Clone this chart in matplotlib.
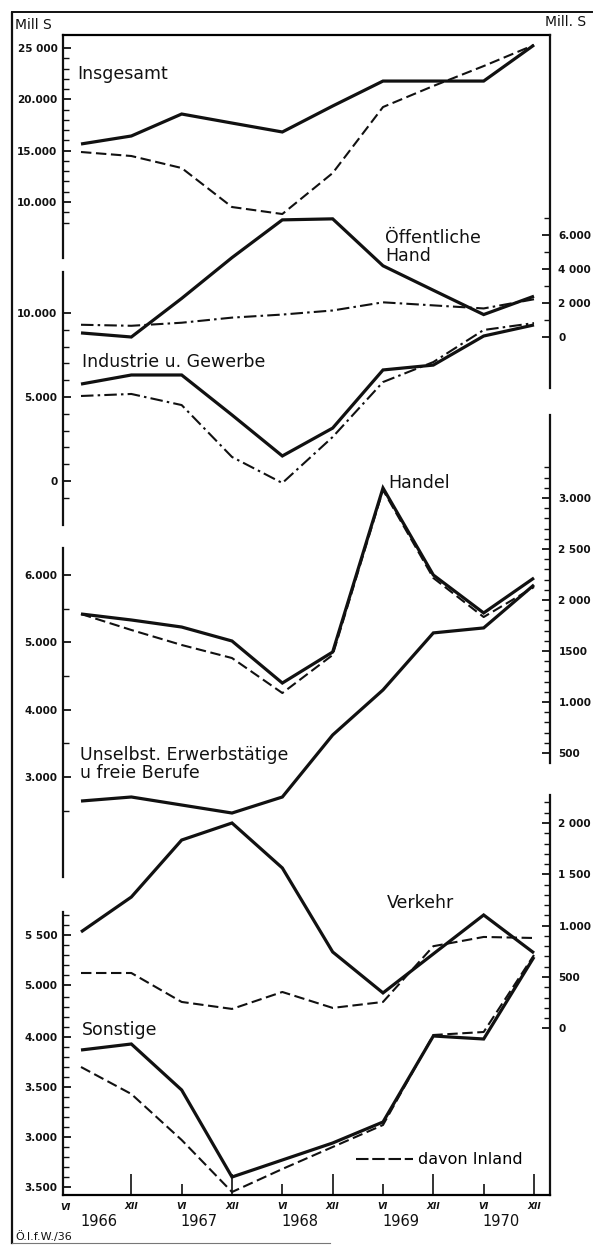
import numpy as np
import matplotlib
matplotlib.use('Agg')
import matplotlib.pyplot as plt
from matplotlib.lines import Line2D
from matplotlib import transforms

# ---------------- data (Mill S) ----------------
periods = ['VI 1966', 'XII 1966', 'VI 1967', 'XII 1967', 'VI 1968',
           'XII 1968', 'VI 1969', 'XII 1969', 'VI 1970', 'XII 1970']
years = ['1966', '1967', '1968', '1969', '1970']

insg_total = [15650, 16430, 18570, 17690, 16820, 19350, 21780, 21780, 21780, 25290]
insg_inland = [14870, 14480, 13310, 9510, 8830, 12820, 19250, 21300, 23240, 25290]
oeff_total = [240, 0, 2270, 4670, 6890, 6950, 4190, 2750, 1320, 2400]
oeff_inland = [720, 660, 840, 1140, 1320, 1560, 2040, 1860, 1680, 2220]
ind_total = [5770, 6310, 6310, 3930, 1490, 3150, 6610, 6900, 8630, 9290]
ind_inland = [5060, 5180, 4520, 1430, -120, 2620, 5890, 7080, 8990, 9400]
handel_total = [1863, 1804, 1735, 1598, 1186, 1490, 3098, 2245, 1873, 2216]
handel_inland = [1863, 1706, 1559, 1431, 1088, 1461, 3078, 2216, 1833, 2127]
unselbst_total = [2643, 2703, 2584, 2465, 2703, 3624, 4293, 5140, 5214, 5853]
verkehr_total = [939, 1279, 1834, 2000, 1562, 744, 345, 725, 1104, 734]
verkehr_inland = [539, 539, 257, 189, 354, 199, 257, 800, 890, 880]
sonst_total = [3870, 3930, 3470, 2600, 2770, 2940, 3150, 4010, 3980, 4800]
sonst_inland = [3700, 3430, 2970, 2450, 2680, 2900, 3120, 4020, 4050, 4820]

# ---------------- layout ----------------
W, H = 593, 1246
L, R, T, B = 63, 550, 35, 1195          # inner frame (pixels)
X0_PX, X9_PX = 81, 534                   # pixel x of first / last period
step = (X9_PX - X0_PX) / (len(periods) - 1)
XLIM = ((L - X0_PX) / step, (R - X0_PX) / step)
x = np.arange(len(periods))

INK = '#111111'
SOLID = dict(color=INK, lw=2.3, solid_joinstyle='miter', solid_capstyle='butt')
DASH = dict(color=INK, lw=1.5, linestyle=(0, (5, 2.2)), dash_capstyle='butt')

fig = plt.figure(figsize=(W / 100, H / 100), dpi=100)
fig.patch.set_facecolor('white')


def fx(px):
    return px / W


def fy(py):
    return 1 - py / H


def scaled_axes(p1, v1, p2, v2):
    k = (v2 - v1) / (p2 - p1)
    ax = fig.add_axes([L / W, 1 - B / H, (R - L) / W, (B - T) / H])
    ax.set_xlim(*XLIM)
    ax.set_ylim(v1 + (B - p1) * k, v1 + (T - p1) * k)
    ax.patch.set_visible(False)
    for s in ax.spines.values():
        s.set_visible(False)
    ax.tick_params(axis='x', which='both', bottom=False, top=False, labelbottom=False)
    ax.tick_params(axis='y', which='both', left=False, right=False,
                   labelleft=False, labelright=False)
    return ax, (lambda p: v1 + (p - p1) * k)


def yscale(ax, f, side, seg, majors, labels, minors, pad):
    ax.set_yticks(majors, labels, fontsize=7.5, fontweight='bold', color=INK)
    ax.set_yticks(minors, minor=True)
    if seg is not None:
        sp = ax.spines[side]
        sp.set_visible(True)
        a, b = sorted([f(seg[0]), f(seg[1])])
        sp.set_bounds(a, b)
        sp.set_linewidth(1.6)
        sp.set_color(INK)
    on_left = side == 'left'
    ax.tick_params(axis='y', which='both', direction='in', color=INK,
                   left=on_left, right=not on_left,
                   labelleft=on_left, labelright=not on_left)
    ax.tick_params(axis='y', which='major', length=6, width=1.3, pad=pad)
    ax.tick_params(axis='y', which='minor', length=4, width=1.0)


# --- Insgesamt (left scale, top) ---
ax1, f1 = scaled_axes(202, 10000, 48, 25000)
yscale(ax1, f1, 'left', (T, 258), [10000, 15000, 20000, 25000],
       ['10.000', '15.000', '20.000', '25 000'], list(range(8000, 26000, 1000)), 4)
ax1.spines['top'].set_visible(True)
ax1.spines['top'].set_linewidth(1.6)
ax1.plot(x, insg_total, **SOLID)
ax1.plot(x, insg_inland, **DASH)

# --- Öffentliche Hand (right scale) ---
ax2, f2 = scaled_axes(337, 0, 235, 6000)
yscale(ax2, f2, 'right', (T, 388), [0, 2000, 4000, 6000],
       ['0', '2 000', '4 000', '6.000'], list(range(0, 8000, 1000)), 6)
ax2.plot(x, oeff_total, **SOLID)
ax2.plot(x, oeff_inland, color=INK, lw=1.5, linestyle=(0, (6, 2, 1.2, 2)))

# --- Industrie u. Gewerbe (left scale) ---
ax3, f3 = scaled_axes(313, 10000, 481, 0)
yscale(ax3, f3, 'left', (272, 525), [0, 5000, 10000],
       ['0', '5.000', '10.000'], list(range(-1000, 11000, 1000)), 4)
ax3.plot(x, ind_total, **SOLID)
ax3.plot(x, ind_inland, color=INK, lw=1.5, linestyle=(0, (6, 2, 1.2, 2)))

# --- Handel (right scale) ---
ax4, f4 = scaled_axes(498, 3000, 753, 500)
yscale(ax4, f4, 'right', (415, 763), [500, 1000, 1500, 2000, 2500, 3000],
       ['500', '1.000', '1500', '2 000', '2 500', '3.000'],
       list(range(500, 3400, 100)), 6)
ax4.plot(x, handel_total, **SOLID)
ax4.plot(x, handel_inland, **DASH)

# --- Unselbst. Erwerbstätige (left scale) ---
ax5, f5 = scaled_axes(575, 6000, 777, 3000)
yscale(ax5, f5, 'left', (548, 877), [3000, 4000, 5000, 6000],
       ['3.000', '4.000', '5.000', '6.000'], list(range(2500, 6500, 500)), 4)
ax5.plot(x, unselbst_total, **SOLID)

# --- Verkehr (right scale) + its left labels ---
ax6, f6 = scaled_axes(823, 2000, 977, 500)
yscale(ax6, f6, 'right', (795, B), [0, 500, 1000, 1500, 2000],
       ['0', '500', '1.000', '1 500', '2 000'], list(range(0, 2300, 100)), 6)
ax6.plot(x, verkehr_total, **SOLID)
ax6.plot(x, verkehr_inland, **DASH)

ax6b, f6b = scaled_axes(935, 5500, 985, 5000)
yscale(ax6b, f6b, 'left', None, [5000, 5500], ['5.000', '5 500'],
       list(range(5000, 5800, 100)), 4)

# --- Sonstige (left scale, bottom with time axis) ---
ax7, f7 = scaled_axes(1037, 4000, 1187, 2500)
yscale(ax7, f7, 'left', (912, B), [2500, 3000, 3500, 4000],
       ['3.500', '3.000', '3.500', '4.000'], list(range(2500, 4500, 100)), 4)
ax7.plot(x, sonst_total, **SOLID)
ax7.plot(x, sonst_inland, **DASH)

ax7.spines['bottom'].set_visible(True)
ax7.spines['bottom'].set_linewidth(1.6)
xii = [i for i, p in enumerate(periods) if p.startswith('XII')]
vi = [i for i, p in enumerate(periods) if p.startswith('VI')][1:]
ax7.set_xticks(xii, ['XII'] * len(xii), fontsize=6.5, fontweight='bold',
               fontstyle='italic', color=INK)
ax7.set_xticks(vi, ['VI'] * len(vi), minor=True, fontsize=6.5, fontweight='bold',
               fontstyle='italic', color=INK)
ax7.tick_params(axis='x', which='both', direction='in', bottom=True,
                labelbottom=True, color=INK, pad=5)
ax7.tick_params(axis='x', which='major', length=15, width=1.2)
ax7.tick_params(axis='x', which='minor', length=8, width=1.2)

bt = transforms.blended_transform_factory(ax7.transData, fig.transFigure)
ax7.text(-0.3, fy(1208), 'VI', transform=bt, fontsize=6.5, fontweight='bold',
         fontstyle='italic', ha='center', va='center', color=INK)
for k, yr in enumerate(years):
    ax7.text(2 * k + 0.35, fy(1222), yr, transform=bt, fontsize=10.5,
             ha='center', va='center', color=INK)

# legend
ax7.legend(handles=[Line2D([], [], color=INK, lw=1.5, linestyle=(0, (6, 1.8)))],
           labels=['davon Inland'], loc='center left',
           bbox_to_anchor=(fx(348), fy(1160)), bbox_transform=fig.transFigure,
           frameon=False, handlelength=3.6, handletextpad=0.3, borderpad=0,
           prop={'size': 11.5})

# ---------------- outer frame & texts ----------------
fig.add_artist(Line2D([fx(12), fx(12)], [fy(13), fy(1243)], color=INK, lw=1.6))
fig.add_artist(Line2D([fx(12), fx(592)], [fy(12), fy(12)], color=INK, lw=1.4))
fig.add_artist(Line2D([fx(12), fx(330)], [fy(1243), fy(1243)], color='#777777', lw=0.8))


def label(px, py, s, size=12.5, **kw):
    fig.text(fx(px), fy(py), s, fontsize=size, color=INK, ha='left', va='center', **kw)


label(15, 25, 'Mill S', size=10)
label(545, 22, 'Mill. S', size=10)
label(77, 74, 'Insgesamt')
label(385, 238, 'Öffentliche')
label(385, 256, 'Hand')
label(82, 362, 'Industrie u. Gewerbe')
label(388, 483, 'Handel')
label(80, 755, 'Unselbst. Erwerbstätige')
label(80, 773, 'u freie Berufe')
label(387, 903, 'Verkehr')
label(82, 1030, 'Sonstige')
label(15, 1237, 'Ö.I.f.W./36', size=8)

fig.savefig('out.png', dpi=100, facecolor='white')
